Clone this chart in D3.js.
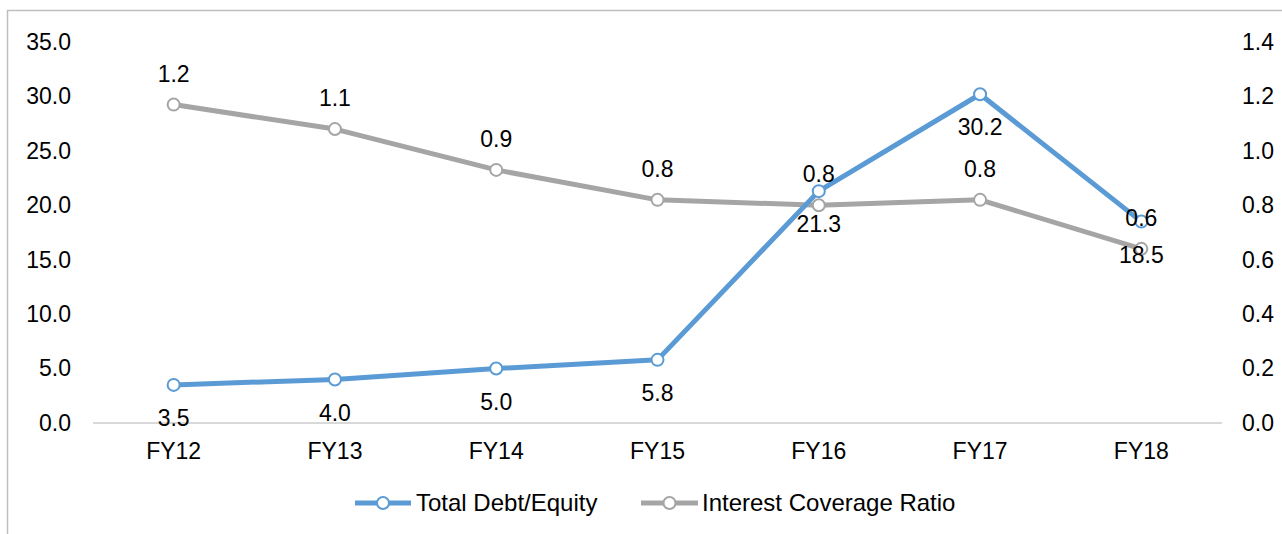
<!DOCTYPE html>
<html>
<head>
<meta charset="utf-8">
<script src="https://cdn.jsdelivr.net/npm/d3@7"></script>
<style>
  body { margin: 0; background: #fff; }
  svg { display: block; }
  text { font-family: "Liberation Sans", Arial, sans-serif; fill: #000; }
</style>
</head>
<body>
<div id="chart"></div>
<script>
// chart data
const years = ['FY12', 'FY13', 'FY14', 'FY15', 'FY16', 'FY17', 'FY18'];
const debtEquity = [3.5, 4.0, 5.0, 5.8, 21.3, 30.2, 18.5];
const coverage = [1.17, 1.08, 0.93, 0.82, 0.80, 0.82, 0.64];
const leftTicks = [0, 5, 10, 15, 20, 25, 30, 35];
const rightTicks = [0, 0.2, 0.4, 0.6, 0.8, 1.0, 1.2, 1.4];
const seriesNames = ['Total Debt/Equity', 'Interest Coverage Ratio'];

const W = 1282, H = 534;
const plot = { left: 93, right: 1222, top: 42, bottom: 423 };
const blue = '#5b9bd5', grey = '#a5a5a5';
const fontSize = '23px';

const svg = d3.select('#chart').append('svg')
    .attr('width', W)
    .attr('height', H);

// outer frame (right and bottom edges fall outside the picture)
svg.append('rect')
    .attr('x', 7.5).attr('y', 10.5)
    .attr('width', W + 20).attr('height', H + 20)
    .attr('fill', 'none')
    .attr('stroke', '#bfbfbf')
    .attr('stroke-width', 1.5);

const x = d3.scaleBand().domain(years).range([plot.left, plot.right]).padding(0);
const cx = d => x(d) + x.bandwidth() / 2;
const yL = d3.scaleLinear().domain([0, 35]).range([plot.bottom, plot.top]);
const yR = d3.scaleLinear().domain([0, 1.4]).range([plot.bottom, plot.top]);

// left axis
const gl = svg.append('g')
    .attr('transform', 'translate(71,0)')
    .call(d3.axisLeft(yL).tickValues(leftTicks).tickFormat(d3.format('.1f')).tickSize(0).tickPadding(0));
// right axis
const gr = svg.append('g')
    .attr('transform', 'translate(1242,0)')
    .call(d3.axisRight(yR).tickValues(rightTicks).tickFormat(d3.format('.1f')).tickSize(0).tickPadding(0));
// category axis
const gb = svg.append('g')
    .attr('transform', `translate(0,${plot.bottom})`)
    .call(d3.axisBottom(x).tickSize(0).tickPadding(20));

[gl, gr, gb].forEach(g => {
    g.select('.domain').remove();
    g.selectAll('text')
        .attr('font-family', null)
        .style('font-size', fontSize)
        .attr('fill', '#000');
});

// zero baseline
svg.append('line')
    .attr('x1', plot.left).attr('x2', plot.right)
    .attr('y1', yL(0)).attr('y2', yL(0))
    .attr('stroke', '#d9d9d9')
    .attr('stroke-width', 2);

const series = [
    { name: seriesNames[1], values: coverage, y: yR, color: grey, fmt: d3.format('.1f'), dy: -31 },
    { name: seriesNames[0], values: debtEquity, y: yL, color: blue, fmt: d3.format('.1f'), dy: 33 }
];

series.forEach(s => {
    const line = d3.line()
        .x((d, i) => cx(years[i]))
        .y(d => s.y(d));

    svg.append('path')
        .datum(s.values)
        .attr('d', line)
        .attr('fill', 'none')
        .attr('stroke', s.color)
        .attr('stroke-width', 5)
        .attr('stroke-linejoin', 'round');

    svg.append('g')
        .selectAll('circle')
        .data(s.values)
        .enter()
        .append('circle')
        .attr('cx', (d, i) => cx(years[i]))
        .attr('cy', d => s.y(d))
        .attr('r', 6)
        .attr('fill', '#fff')
        .attr('stroke', s.color)
        .attr('stroke-width', 2);
});

// data labels on top
series.forEach(s => {
    svg.append('g')
        .selectAll('text')
        .data(s.values)
        .enter()
        .append('text')
        .attr('x', (d, i) => cx(years[i]))
        .attr('y', d => s.y(d) + s.dy)
        .attr('dy', '0.35em')
        .attr('text-anchor', 'middle')
        .style('font-size', fontSize)
        .text(d => s.fmt(d));
});

// legend
const legendY = 503;
const legendItems = [
    { name: seriesNames[0], color: blue, x0: 355, x1: 411, tx: 416 },
    { name: seriesNames[1], color: grey, x0: 641, x1: 698, tx: 702 }
];
const lg = svg.append('g').selectAll('g')
    .data(legendItems)
    .enter()
    .append('g');

lg.append('line')
    .attr('x1', d => d.x0).attr('x2', d => d.x1)
    .attr('y1', legendY).attr('y2', legendY)
    .attr('stroke', d => d.color)
    .attr('stroke-width', 5);

lg.append('circle')
    .attr('cx', d => (d.x0 + d.x1) / 2)
    .attr('cy', legendY)
    .attr('r', 6)
    .attr('fill', '#fff')
    .attr('stroke', d => d.color)
    .attr('stroke-width', 2);

lg.append('text')
    .attr('x', d => d.tx)
    .attr('y', legendY)
    .attr('dy', '0.35em')
    .style('font-size', '24px')
    .text(d => d.name);
</script>
</body>
</html>
